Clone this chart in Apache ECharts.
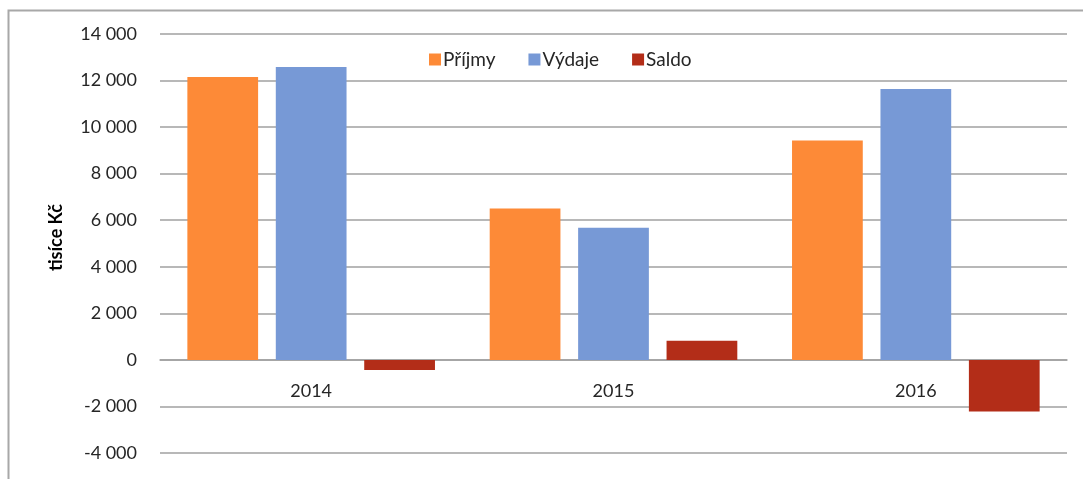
<!DOCTYPE html>
<html>
<head>
<meta charset="utf-8">
<script src="https://cdn.jsdelivr.net/npm/echarts@6/dist/echarts.min.js"></script>
<style>html,body{margin:0;padding:0;background:#fff;}#c{width:1083px;height:479px;}</style>
</head>
<body>
<div id="c"></div>
<script>
const categories = ['2014', '2015', '2016'];
const seriesNames = ['Příjmy', 'Výdaje', 'Saldo'];
const prijmy = [12150, 6500, 9420];
const vydaje = [12580, 5680, 11640];
const saldo = [-430, 820, -2220];
const colors = ['#fd8a37', '#7799d6', '#b32d18'];
const yTicks = { min: -4000, max: 14000, interval: 2000 };

const fmt = v => {
  const s = String(Math.abs(v));
  const g = s.replace(/\B(?=(\d{3})+(?!\d))/g, ' ');
  return (v < 0 ? '-' : '') + g;
};

const gridTop = 34, gridBottom = 26, H = 479;
const plotH = H - gridTop - gridBottom;
const zeroOffset = -plotH * (0 - yTicks.min) / (yTicks.max - yTicks.min);

const chart = echarts.init(document.getElementById('c'));
const font = 'Lato, "Open Sans", sans-serif';
const values = [prijmy, vydaje, saldo];
chart.setOption({
  animation: false,
  textStyle: { fontFamily: font },
  graphic: [{
    type: 'rect', shape: { x: 8.5, y: 10.5, width: 1200, height: 600 },
    style: { fill: 'none', stroke: '#a8a8a8', lineWidth: 2 }, silent: true, z: -1
  }],
  grid: { left: 160, right: 16, top: gridTop, bottom: gridBottom, containLabel: false, outerBoundsMode: 'none' },
  legend: {
    left: 424, top: 45, itemWidth: 12, itemHeight: 12, itemGap: 33,
    icon: 'rect',
    textStyle: { fontSize: 19, color: '#262626', fontFamily: font, padding: [0, 0, 0, -3] },
    data: seriesNames
  },
  xAxis: {
    type: 'category', data: categories,
    offset: zeroOffset,
    axisLine: { onZero: false, lineStyle: { color: '#a0a0a0', width: 1.5 } },
    axisTick: { show: false },
    axisLabel: { fontSize: 18, color: '#262626', margin: 22 }
  },
  yAxis: {
    type: 'value', min: yTicks.min, max: yTicks.max, interval: yTicks.interval,
    name: 'tisíce Kč', nameLocation: 'middle', nameGap: 95, nameRotate: 90,
    nameTextStyle: { fontSize: 18, fontWeight: 'bold', color: '#000', fontFamily: font, padding: [0, 0, 0, 12] },
    axisLine: { show: false }, axisTick: { show: false },
    axisLabel: { fontSize: 18, color: '#262626', margin: 23, formatter: fmt },
    splitLine: { lineStyle: { color: '#a0a0a0', width: 1.5 } }
  },
  series: seriesNames.map((n, i) => ({
    name: n, type: 'bar', data: values[i],
    barWidth: '23.4%', barGap: '25%',
    itemStyle: { color: colors[i] }
  }))
});
</script>
</body>
</html>
